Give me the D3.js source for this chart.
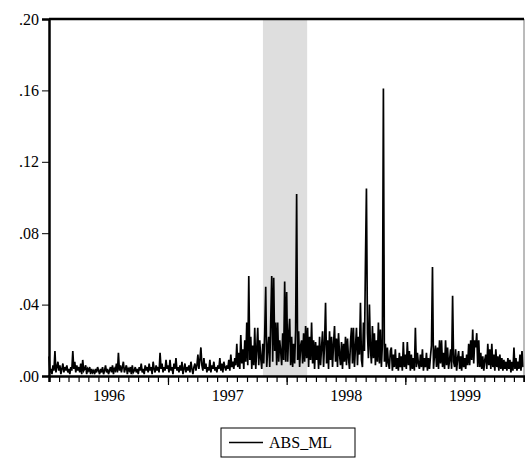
<!DOCTYPE html>
<html>
<head>
<meta charset="utf-8">
<script src="https://cdn.jsdelivr.net/npm/d3@7"></script>
<style>
  body { margin: 0; background: #fff; }
  svg text { font-family: "Liberation Serif", "Times New Roman", serif; }
</style>
</head>
<body>
<svg id="chart" width="525" height="463"></svg>
<script>
// ABS_ML, in thousandths, about one reading every three days
const abs1996 = [
  11,2,4,1,6,3,14,2,5,8, 3,6,1,4,7,2,5,3,6,2, 4,1,5,3,14,4,8,2,6,3,
  5,2,7,1,9,3,4,6,1,4, 3,5,1,4,2,3,1,4,2,5, 3,1,4,2,5,1,3,6,2,4,
  1,3,5,2,6,1,4,3,7,2, 13,3,6,2,5,8,2,4,6,1, 4,3,5,1,6,2,3,5,2,4,
  1,5,3,7,2,4,1,6,3,5, 2,7,3,5,1,8,4,2,6,3, 5,2,13,4,7,2,5,3,9,4
];
const abs1997 = [
  6,2,9,3,5,1,7,4,10,3, 5,2,6,3,8,1,4,7,2,5, 3,6,2,8,4,1,5,7,3,6,
  12,4,9,16,6,3,10,4,7,2, 5,3,9,2,6,4,8,3,5,2, 6,4,10,3,7,2,8,5,3,6,
  4,9,3,12,5,8,4,10,6,18, 5,13,4,23,7,15,4,20,8,30, 6,56,9,22,4,17,6,27,4,15,
  27,6,20,10,4,18,7,24,50,5, 15,22,5,30,56,8,55,14,30,6, 30,8,20,14,6,24,9,53,8
];
const abs1998 = [
  47,8,23,32,6,22,5,18,7,26, 102,9,25,5,17,20,7,24,8,28, 10,27,5,22,9,30,7,20,4,19,
  9,17,4,22,6,16,25,5,18,41, 7,20,4,25,9,22,5,18,28,8, 21,5,24,12,6,19,4,18,8,22,
  6,21,10,4,19,27,7,27,5,16, 27,6,22,12,41,9,5,30,14,63, 105,24,10,40,15,7,28,10,24,6,
  20,8,30,7,26,5,18,161,8,18, 5,16,7,4,14,16,3,12,5,15, 4,10,3,13,5,11,3,19,5
];
const abs1999 = [
  12,4,19,6,14,3,12,4,10,3, 27,5,13,7,4,12,5,15,3,10, 5,13,3,10,4,11,17,61,4,12,
  17,5,16,4,20,7,20,5,13,4, 20,6,16,4,9,15,4,45,8,5, 15,3,10,14,4,11,3,14,5,10,
  4,12,6,18,6,20,9,26,7,20, 16,24,5,20,5,13,4,11,3,9, 12,4,18,6,15,4,18,5,12,3,
  15,5,11,3,12,4,10,3,9,4, 8,3,10,4,9,2,8,3,16,4, 10,3,8,4,12,3,14,5
];
const years = [1996, 1997, 1998, 1999];
const seriesByYear = [abs1996, abs1997, abs1998, abs1999];
const yTicks = [0, 0.04, 0.08, 0.12, 0.16, 0.20];
const shadeStart = new Date(1997, 9, 20);
const shadeEnd = new Date(1998, 2, 5);
const seriesName = 'ABS_ML';

const data = [];
seriesByYear.forEach((vals, k) => {
  const start = new Date(years[k], 0, 1);
  const days = d3.timeDay.count(start, new Date(years[k] + 1, 0, 1));
  vals.forEach((v, i) => {
    data.push({ date: d3.timeHour.offset(start, Math.round(i * days * 24 / vals.length)), value: v / 1000 });
  });
});

const svg = d3.select('#chart');
const margin = { left: 49, right: 524, top: 19, bottom: 376 };

const x = d3.scaleTime()
  .domain([new Date(1996, 0, 1), new Date(2000, 0, 1)])
  .range([margin.left, margin.right]);
const y = d3.scaleLinear()
  .domain([0, 0.2])
  .range([margin.bottom, margin.top]);

// shaded period
svg.append('rect')
  .attr('x', x(shadeStart))
  .attr('y', y(0.2))
  .attr('width', x(shadeEnd) - x(shadeStart))
  .attr('height', y(0) - y(0.2))
  .attr('fill', '#dedede');

// series
svg.append('path')
  .datum(data)
  .attr('fill', 'none')
  .attr('stroke', '#000')
  .attr('stroke-width', 1.7)
  .attr('stroke-linejoin', 'miter')
  .attr('d', d3.line().x(d => x(d.date)).y(d => y(d.value)));

// frame: thin right edge, heavy top
svg.append('line')
  .attr('x1', margin.right).attr('x2', margin.right)
  .attr('y1', y(0.2)).attr('y2', y(0))
  .attr('stroke', '#777').attr('stroke-width', 1);
svg.append('line')
  .attr('x1', margin.left).attr('x2', margin.right)
  .attr('y1', y(0.2)).attr('y2', y(0.2))
  .attr('stroke', '#000').attr('stroke-width', 2.5);

// y axis
const yAxis = svg.append('g')
  .attr('transform', `translate(${margin.left},0)`)
  .call(d3.axisLeft(y)
    .tickValues(yTicks)
    .tickSize(7)
    .tickPadding(3)
    .tickFormat(d => d3.format('.2f')(d).replace(/^0/, '')));
yAxis.select('.domain').attr('stroke-width', 2.5);
yAxis.selectAll('text').attr('font-size', 16).attr('fill', '#000')
  .style('font-family', '"Liberation Serif", "Times New Roman", serif');

// x axis: month ticks, longer year ticks, labels mid-year
const xMonths = svg.append('g')
  .attr('transform', `translate(0,${margin.bottom})`)
  .call(d3.axisBottom(x)
    .ticks(d3.timeMonth.every(1))
    .tickSize(6)
    .tickFormat(''));
xMonths.select('.domain').attr('stroke-width', 2.5);
xMonths.selectAll('.tick line').attr('stroke-width', 1.2);

svg.append('g')
  .attr('transform', `translate(0,${margin.bottom})`)
  .call(d3.axisBottom(x)
    .tickValues(years.slice(1).map(yr => new Date(yr, 0, 1)))
    .tickSize(9)
    .tickFormat(''))
  .call(g => g.select('.domain').remove())
  .selectAll('.tick line').attr('stroke-width', 1.2);

const xLabels = svg.append('g')
  .attr('transform', `translate(0,${margin.bottom})`)
  .call(d3.axisBottom(x)
    .tickValues(years.map(yr => new Date(yr, 6, 2)))
    .tickSize(0)
    .tickPadding(14)
    .tickFormat(d3.timeFormat('%Y')));
xLabels.select('.domain').remove();
xLabels.selectAll('text').attr('font-size', 16).attr('fill', '#000')
  .style('font-family', '"Liberation Serif", "Times New Roman", serif');

// legend
const legend = svg.append('g').attr('transform', 'translate(221,428)');
legend.append('rect')
  .attr('width', 134).attr('height', 29)
  .attr('fill', '#fff').attr('stroke', '#000').attr('stroke-width', 1);
legend.append('line')
  .attr('x1', 8).attr('x2', 42).attr('y1', 14.5).attr('y2', 14.5)
  .attr('stroke', '#000').attr('stroke-width', 1.5);
legend.append('text')
  .attr('x', 48).attr('y', 20)
  .attr('font-size', 16)
  .text(seriesName);
</script>
</body>
</html>
